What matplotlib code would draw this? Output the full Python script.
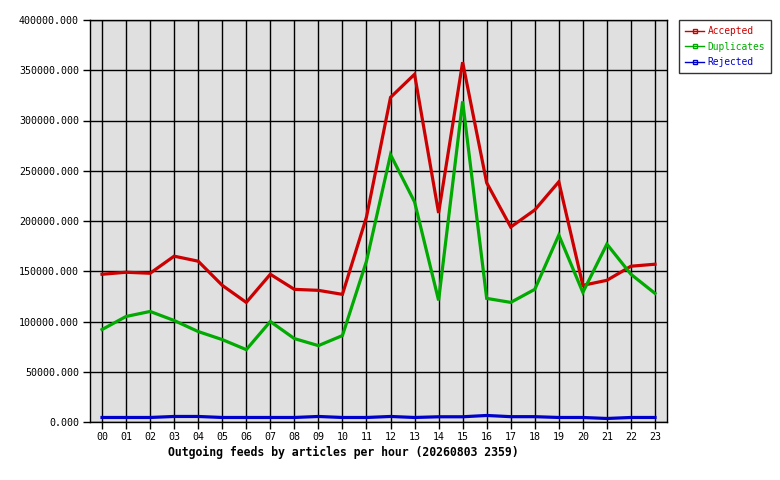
import matplotlib
matplotlib.use('Agg')
from matplotlib import pyplot as plt
from matplotlib.lines import Line2D
from matplotlib.ticker import MultipleLocator, FuncFormatter

hours = ['00', '01', '02', '03', '04', '05', '06', '07', '08', '09', '10', '11',
         '12', '13', '14', '15', '16', '17', '18', '19', '20', '21', '22', '23']
accepted = [147000, 149000, 148000, 165000, 160000, 136000, 119000, 147000,
            132000, 131000, 127000, 204000, 323000, 346000, 208000, 358000,
            238000, 194000, 211000, 239000, 136000, 141000, 155000, 157000]
duplicates = [92000, 105000, 110000, 101000, 90000, 82000, 72000, 100000,
              83000, 76000, 86000, 160000, 266000, 219000, 121000, 319000,
              123000, 119000, 132000, 186000, 129000, 177000, 147000, 128000]
rejected = [4500, 4500, 4500, 5500, 5500, 4500, 4500, 4500, 4500, 5500, 4500, 4500,
            5500, 4500, 5200, 5200, 6500, 5300, 5300, 4500, 4500, 3500, 4500, 4500]
series = [('Accepted', accepted, '#cc0000'),
          ('Duplicates', duplicates, '#00aa00'),
          ('Rejected', rejected, '#0000cc')]
title = 'Outgoing feeds by articles per hour (20260803 2359)'

plt.rcParams['font.family'] = ['DejaVu Sans Mono']

fig = plt.figure(figsize=(7.8, 4.8), dpi=100)
ax = fig.add_axes([90/780, 58/480, 577/780, 402/480])
ax.set_facecolor('#e0e0e0')

x = list(range(len(hours)))
for name, vals, col in series:
    ax.plot(x, vals, color=col, linewidth=2.3, solid_joinstyle='miter', zorder=3)

ax.set_xlim(-0.5, 23.5)
ax.set_ylim(0, 400000)
ax.set_xticks(x)
ax.set_xticklabels(hours)
ax.yaxis.set_major_locator(MultipleLocator(50000))
ax.yaxis.set_major_formatter(FuncFormatter(lambda v, p: '%.3f' % v))
ax.grid(True, color='black', linewidth=1, zorder=1)
ax.set_axisbelow(True)
ax.tick_params(direction='out', length=5, width=1, labelsize=7.2, pad=3)
ax.tick_params(axis='x', pad=2)
for s in ax.spines.values():
    s.set_linewidth(1)
ax.set_xlabel(title, fontsize=8.3, fontweight='bold')
# title in the original sits left of the axes centre
ax.xaxis.set_label_coords((343 - 90) / 577, -24 / 402)

handles = [Line2D([], [], color=col, linewidth=1, marker='s', markersize=3,
                  markerfacecolor='none', markeredgecolor=col) for _, _, col in series]
leg = fig.legend(handles, [n for n, _, _ in series], loc='upper left',
                 bbox_to_anchor=(679/780, 1 - 20/480), fontsize=6.9, frameon=True,
                 fancybox=False, edgecolor='black', borderaxespad=0, borderpad=0.62,
                 handlelength=2.0, handletextpad=0.35, labelspacing=0.58)
leg.get_frame().set_linewidth(1)
for t, (_, _, col) in zip(leg.get_texts(), series):
    t.set_color(col)

fig.savefig('out.png', dpi=100)
